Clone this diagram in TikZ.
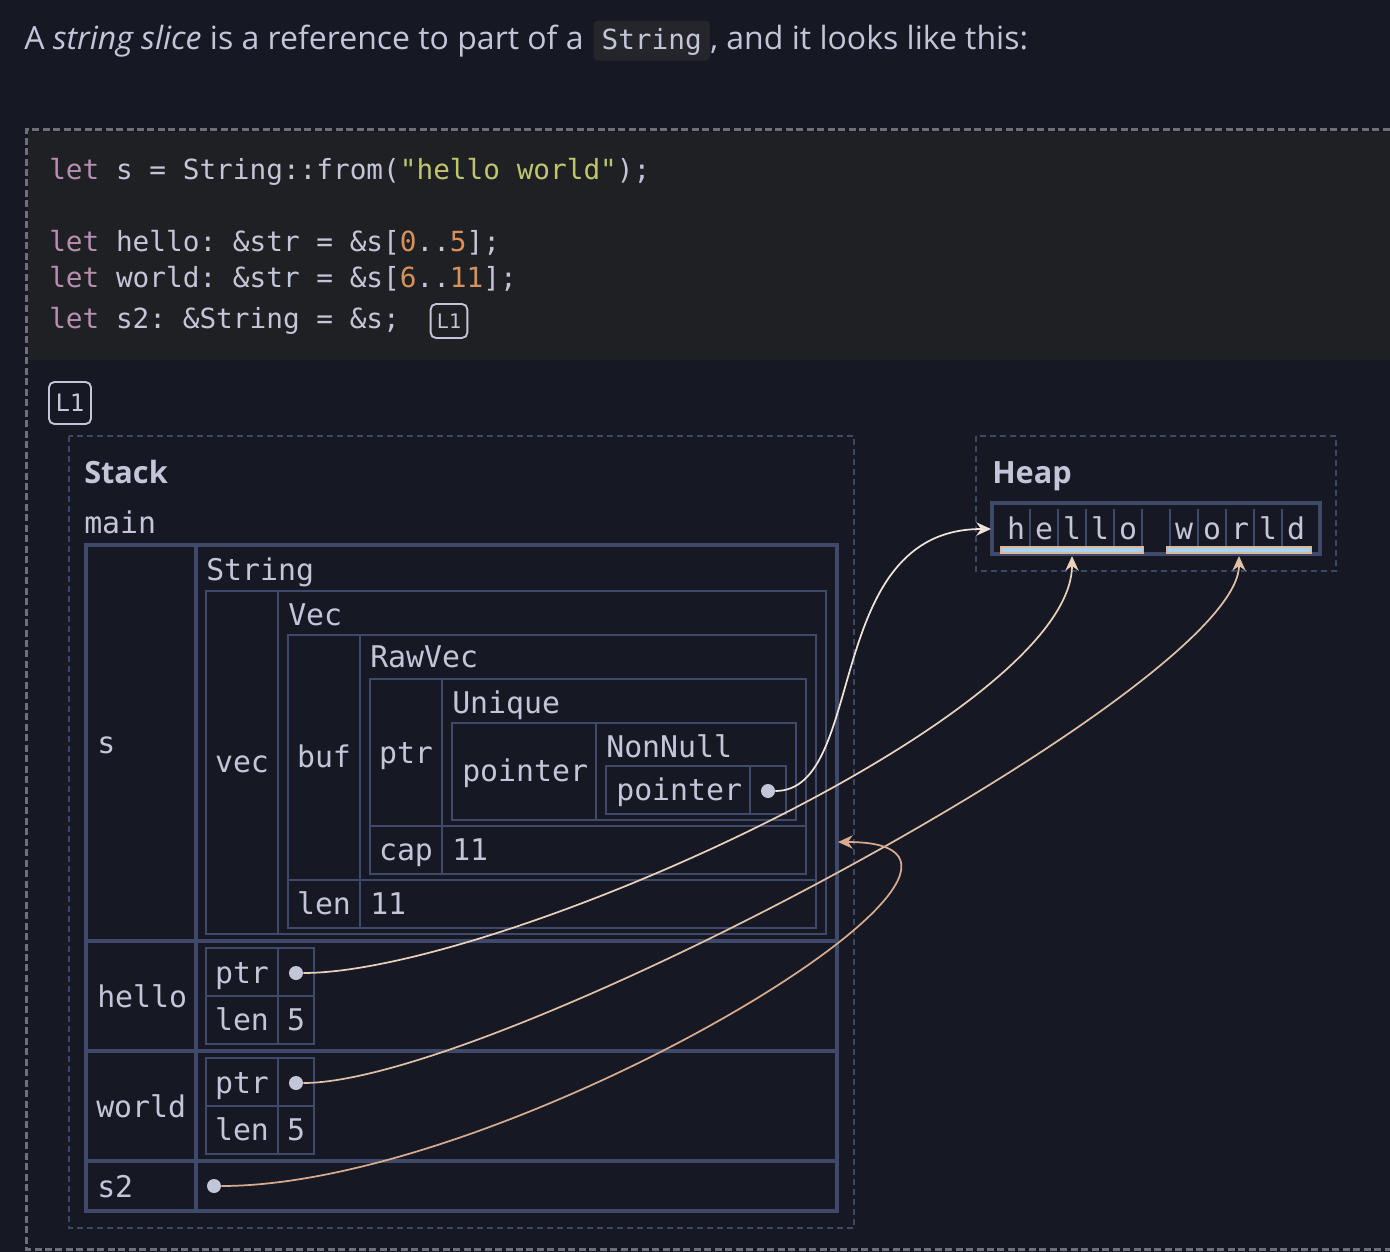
\documentclass[tikz,border=0pt]{standalone}
\usepackage{fontspec}
\usepackage{xcolor}
\usepackage{tikz}
\usetikzlibrary{positioning,arrows.meta}
\setmainfont{Open Sans}
\setmonofont{DejaVu Sans Mono}
\definecolor{pagebg}{HTML}{161923}
\definecolor{codebg}{HTML}{1F2023}
\definecolor{inlbg}{HTML}{24262B}
\definecolor{ink}{HTML}{C3C5D8}
\definecolor{kw}{HTML}{B78EB2}
\definecolor{strg}{HTML}{BFC56F}
\definecolor{num}{HTML}{D8915A}
\definecolor{frame}{HTML}{3F4A6B}
\definecolor{framedash}{HTML}{3C4665}
\definecolor{outerdash}{HTML}{6E7079}
\definecolor{arrA}{HTML}{EFE3D8}
\definecolor{arrB}{HTML}{E8D0BB}
\definecolor{arrC}{HTML}{DFC0A6}
\definecolor{arrD}{HTML}{D8AB8F}
\definecolor{hlfill}{HTML}{A7D3F0}
\definecolor{hlline}{HTML}{D9B89C}
\newcommand{\codesize}{\ttfamily\fontsize{20.8}{25}\selectfont}
\newcommand{\cellsize}{\ttfamily\fontsize{22.4}{27}\selectfont}

\begin{document}
\begin{tikzpicture}[x=0.75pt,y=0.75pt,yscale=-1,xscale=1,
  prose/.style={text=ink,font=\fontsize{24}{29}\selectfont,inner sep=0pt},
  inl/.style={fill=inlbg,rounded corners=3pt,text=ink,font=\codesize,inner xsep=6pt,inner ysep=5pt,text height=17pt,text depth=3pt},
  codeln/.style={text=ink,font=\codesize,inner sep=0pt,anchor=base west},
  lbl/.style={text=ink,font=\cellsize,inner sep=0pt},
  head/.style={text=ink,font=\fontsize{23}{27}\selectfont\bfseries,inner sep=0pt,anchor=base west},
  lbox/.style={draw=ink,line width=1.4pt,rounded corners=4pt,text=ink,inner sep=0pt},
  frm/.style={draw=frame,line width=1.5pt},
  frmthick/.style={draw=frame,line width=2.4pt},
  region/.style={draw=framedash,line width=1.1pt,dash pattern=on 4.5pt off 3pt},
  dot/.style={circle,fill=ink,inner sep=0pt,minimum size=10.5pt},
  ptr/.style={line width=1.3pt,-{Stealth[length=11pt,width=10pt,inset=3.5pt]}}]
\useasboundingbox (0,0) rectangle (1390,1252);
\fill[pagebg] (0,0) rectangle (1390,1252);
\fill[codebg] (28,132) rectangle (1390,360);
\draw[outerdash,line width=2.25pt,dash pattern=on 5.25pt off 2.6pt] (1400,130) -- (26,130) -- (26,1249) -- (1400,1249);

\node[prose,anchor=base west] (title) at (24,50) {A \textit{string slice} is a reference to part of a};
\node[inl,base right=7pt of title] (strcode) {String};
\node[prose,base right=0pt of strcode] (title2) {, and it looks like this:};

\node[codeln] (ln1) at (49,180) {\textcolor{kw}{let} s = String::from(\textcolor{strg}{"hello world"});};
\node[codeln] (ln2) at (49,252) {\textcolor{kw}{let} hello: \&str = \&s[\textcolor{num}{0}..\textcolor{num}{5}];};
\node[codeln] (ln3) at (49,288) {\textcolor{kw}{let} world: \&str = \&s[\textcolor{num}{6}..\textcolor{num}{11}];};
\node[codeln] (ln4) at (49,329) {\textcolor{kw}{let} s2: \&String = \&s;};
\node[lbox,fill=codebg,minimum width=27.5pt,minimum height=25.5pt,font=\ttfamily\fontsize{15}{18}\selectfont] (lonecode) at (449,321) {L1};
\node[lbox,fill=pagebg,minimum width=31.5pt,minimum height=31.5pt,font=\ttfamily\fontsize{18}{21}\selectfont] (lone) at (70,403) {L1};

\draw[region] (69,436) rectangle (854,1228);
\draw[region] (976,436) rectangle (1336,571);
\node[head] (stack) at (84,483) {Stack};
\node[head] (heap) at (992,483) {Heap};
\node[lbl,anchor=base west] (main) at (84,533) {main};

\draw[frmthick] (86,545) rectangle (837,1211) (196,545) -- (196,1211);
\draw[frmthick] (86,941) -- (837,941) (86,1051) -- (837,1051) (86,1161) -- (837,1161);
\draw[frm] (206,591) rectangle (826,934) (278,591) -- (278,934);
\draw[frm] (288,635) rectangle (816,928) (360,635) -- (360,928) (288,880) -- (816,880);
\draw[frm] (370,679) rectangle (806,874) (442,679) -- (442,874) (370,826) -- (806,826);
\draw[frm] (452,723) rectangle (796,820) (596,723) -- (596,820);
\draw[frm] (606,766) rectangle (786,814) (750,766) -- (750,814);
\draw[frm] (206,948) rectangle (314,1044) (278,948) -- (278,1044) (206,996) -- (314,996);
\draw[frm] (206,1058) rectangle (314,1154) (278,1058) -- (278,1154) (206,1106) -- (314,1106);

\node[lbl,anchor=base west] (lbs) at (97,753) {s};
\node[lbl,anchor=base west] (lbstring) at (206,580) {String};
\node[lbl,anchor=base] (lbvec) at (242,772) {vec};
\node[lbl,anchor=base west] (lbvect) at (288,625) {Vec};
\node[lbl,anchor=base] (lbbuf) at (324,767) {buf};
\node[lbl,anchor=base west] (lbraw) at (370,667) {RawVec};
\node[lbl,anchor=base] (lbptr) at (406,763) {ptr};
\node[lbl,anchor=base west] (lbuniq) at (452,713) {Unique};
\node[lbl,anchor=base west] (lbpointer) at (462,781) {pointer};
\node[lbl,anchor=base west] (lbnonnull) at (606,757) {NonNull};
\node[lbl,anchor=base west] (lbnnpointer) at (616,800) {pointer};
\node[lbl,anchor=base] (lbcap) at (406,860) {cap};
\node[lbl,anchor=base west] (vcap) at (452,860) {11};
\node[lbl,anchor=base] (lblen) at (324,914) {len};
\node[lbl,anchor=base west] (vlen) at (370,914) {11};
\node[lbl,anchor=base west] (lbhello) at (97,1007) {hello};
\node[lbl,anchor=base] (hptr) at (242,983) {ptr};
\node[lbl,anchor=base] (hlen) at (242,1030) {len};
\node[lbl,anchor=base] (hval) at (296,1030) {5};
\node[lbl,anchor=base west] (lbworld) at (96,1117) {world};
\node[lbl,anchor=base] (wptr) at (242,1093) {ptr};
\node[lbl,anchor=base] (wlen) at (242,1140) {len};
\node[lbl,anchor=base] (wval) at (296,1140) {5};
\node[lbl,anchor=base west] (lbstwo) at (97,1197) {s2};

\draw[frmthick] (992,503) rectangle (1320,554);
\foreach \i in {0,...,9}
  \draw[frm,line width=1.1pt] ({1030+28*\i},509) -- ({1030+28*\i},547);
\foreach \ch [count=\i from 0] in {h,e,l,l,o,{},w,o,r,l,d}
  \node[lbl,anchor=base] (c\i) at ({1016+28*\i},539) {\ch};
\draw[hlline,fill=hlfill,line width=0.8pt] (1001,547) rectangle (1143,553);
\draw[hlline,fill=hlfill,line width=0.8pt] (1167,547) rectangle (1311,553);
\coordinate (heapin) at (991,529);
\coordinate (hellobar) at (1072,556);
\coordinate (worldbar) at (1239,556);
\coordinate (srow) at (838,842);

\node[dot] (nnptr) at (768,791) {};
\node[dot] (helloptr) at (296,973) {};
\node[dot] (worldptr) at (296,1083) {};
\node[dot] (stwoptr) at (214,1186) {};

\draw[ptr,arrA] (nnptr) .. controls +(100,0) and +(-170,0) .. (heapin);
\draw[ptr,arrB] (helloptr) .. controls +(200,0) and +(0,160) .. (hellobar);
\draw[ptr,arrC] (worldptr) .. controls +(200,0) and +(0,130) .. (worldbar);
\draw[ptr,arrD] (stwoptr) .. controls +(300,0) and +(240,0) .. (srow);
\end{tikzpicture}
\end{document}
